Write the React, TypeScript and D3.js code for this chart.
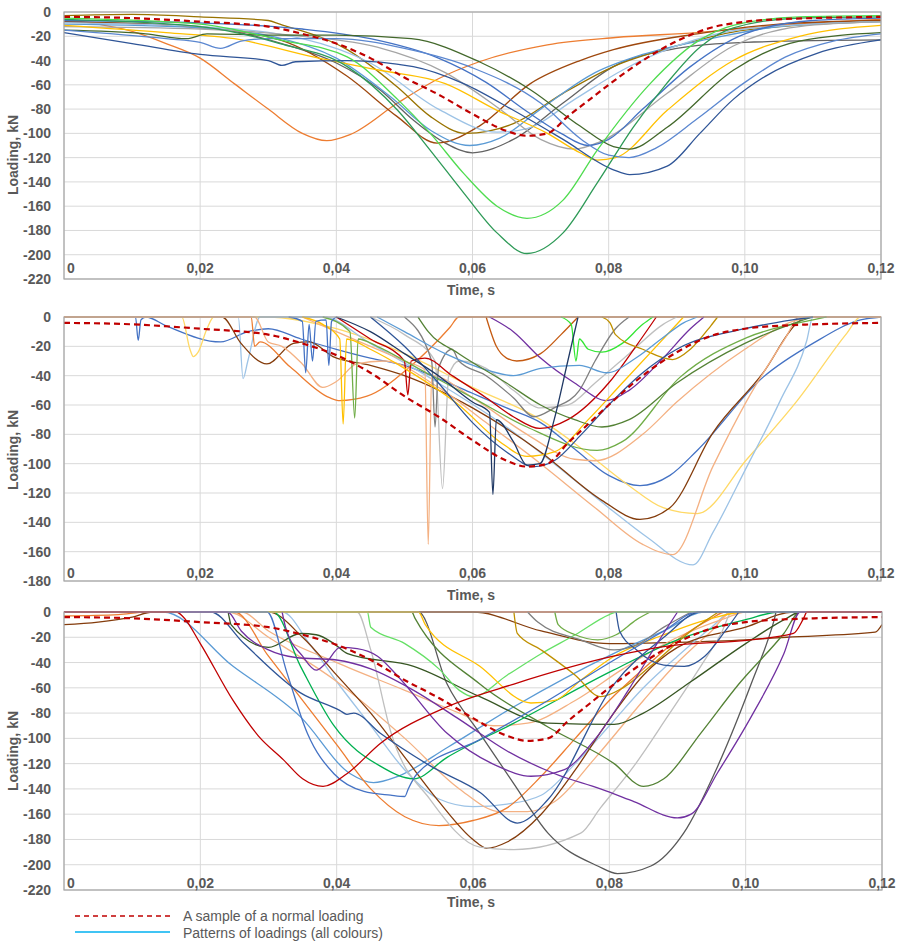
import React from "react";
import * as d3 from "d3";

type Pt = [number, number];

// shared axis stuff
const timeTicks = [0, 0.02, 0.04, 0.06, 0.08, 0.1, 0.12];
const timeLabels = ["0", "0,02", "0,04", "0,06", "0,08", "0,10", "0,12"];

// the dashed reference curve, same on all three panels
const normalLoading: Pt[] = [[0,-4],[0.01,-5],[0.02,-8],[0.03,-12],[0.035,-18],[0.04,-26],[0.045,-38],[0.05,-54],[0.055,-68],[0.06,-84],[0.065,-98],[0.068,-102],[0.071,-100],[0.074,-86],[0.077,-73],[0.08,-60],[0.085,-40],[0.09,-24],[0.095,-13],[0.1,-8],[0.105,-6],[0.11,-5],[0.12,-4]];

// ---- panel 1 ----
const p1Orange: Pt[] = [[0,-6],[0.005,-10],[0.01,-16],[0.015,-26],[0.02,-38],[0.025,-59],[0.03,-80],[0.035,-100],[0.0386,-106],[0.042,-101],[0.049,-75],[0.055,-55],[0.061,-41],[0.071,-27],[0.081,-21],[0.093,-17],[0.105,-11],[0.12,-6]];
const p1BrightGreen: Pt[] = [[0,-5],[0.02,-10],[0.0317,-23],[0.0416,-37],[0.049,-72],[0.0538,-100],[0.0587,-133],[0.0636,-160],[0.068,-170],[0.0733,-155],[0.0783,-114],[0.0861,-59],[0.0934,-23],[0.0983,-11],[0.108,-4],[0.12,-3]];
const p1DarkGreen: Pt[] = [[0,-6],[0.02,-12],[0.0317,-26],[0.0416,-45],[0.049,-81],[0.0538,-114],[0.0587,-149],[0.0636,-182],[0.068,-199],[0.0733,-182],[0.0783,-141],[0.0836,-95],[0.0885,-59],[0.0934,-29],[0.0983,-13],[0.108,-5],[0.12,-4]];
const p1DarkBlue: Pt[] = [[0,-17],[0.01,-26],[0.02,-35],[0.03,-40],[0.032,-44],[0.034,-41],[0.0416,-40],[0.0513,-45],[0.0587,-59],[0.066,-81],[0.0733,-105],[0.0807,-130],[0.0831,-134],[0.0886,-127],[0.0934,-100],[0.0983,-72],[0.103,-53],[0.1106,-34],[0.12,-23]];
const p1Blue: Pt[] = [[0,-15],[0.015,-22],[0.02,-25],[0.023,-30],[0.026,-24],[0.03,-22],[0.04,-22],[0.05,-30],[0.06,-46],[0.07,-75],[0.076,-105],[0.08,-118],[0.083,-120],[0.087,-112],[0.093,-88],[0.1,-58],[0.106,-37],[0.113,-24],[0.12,-18]];
const p1Olive: Pt[] = [[0,-15],[0.012,-18],[0.018,-22],[0.021,-18],[0.03,-19],[0.04,-19],[0.051,-22],[0.061,-41],[0.0685,-64],[0.0758,-94],[0.0807,-111],[0.083,-113],[0.0886,-95],[0.0983,-48],[0.108,-24],[0.12,-17]];
const p1Gold: Pt[] = [[0,-11],[0.015,-17],[0.025,-22],[0.0366,-37],[0.0464,-48],[0.056,-59],[0.0636,-81],[0.071,-100],[0.0758,-116],[0.0783,-122],[0.081,-120],[0.0886,-81],[0.0983,-40],[0.108,-20],[0.12,-11]];
const p1Grey: Pt[] = [[0,-12],[0.02,-14],[0.035,-20],[0.046,-29],[0.056,-50],[0.064,-80],[0.07,-105],[0.075,-113],[0.0787,-107],[0.0886,-67],[0.0983,-28],[0.108,-12],[0.12,-8]];
const p1DarkGrey: Pt[] = [[0,-8],[0.02,-12],[0.032,-26],[0.04,-42],[0.0464,-64],[0.0513,-89],[0.056,-108],[0.06,-116],[0.066,-105],[0.0733,-75],[0.0807,-45],[0.09,-30],[0.1,-25],[0.12,-23]];
const p1LightBlue: Pt[] = [[0,-10],[0.02,-13],[0.032,-22],[0.04,-38],[0.048,-70],[0.054,-98],[0.0596,-110],[0.064,-104],[0.07,-80],[0.078,-50],[0.085,-35],[0.095,-22],[0.105,-12],[0.12,-8]];
const p1Brown: Pt[] = [[0,-8],[0.02,-13],[0.0317,-23],[0.0416,-53],[0.0489,-86],[0.0548,-108],[0.061,-94],[0.0685,-59],[0.0758,-40],[0.0807,-31],[0.093,-18],[0.105,-10],[0.12,-7]];
const p1DarkGold: Pt[] = [[0,-3],[0.01,-2],[0.02,-4],[0.03,-7],[0.0317,-10],[0.0416,-31],[0.049,-62],[0.0538,-86],[0.059,-100],[0.066,-92],[0.0733,-67],[0.0807,-45],[0.09,-28],[0.1,-15],[0.12,-8]];
const p1PaleBlue: Pt[] = [[0,-9],[0.02,-12],[0.035,-22],[0.045,-42],[0.055,-80],[0.0636,-99],[0.068,-96],[0.075,-72],[0.082,-48],[0.09,-28],[0.1,-14],[0.12,-8]];
const p1MidBlue: Pt[] = [[0,-7],[0.02,-9],[0.035,-14],[0.045,-22],[0.055,-38],[0.062,-58],[0.068,-82],[0.073,-100],[0.077,-110],[0.08,-105],[0.085,-80],[0.092,-45],[0.1,-18],[0.11,-7],[0.12,-5]];

// ---- panel 2 ----
const p2BlueA: Pt[] = [[0,0],[0.0105,0],[0.0109,-16],[0.0113,-2],[0.012,0],[0.015,-6],[0.023,-17],[0.027,-10],[0.03,-8],[0.0348,-15],[0.04,-22],[0.045,-28],[0.05,-33],[0.055,-42],[0.06,-52],[0.065,-62],[0.07,-72],[0.075,-90],[0.08,-108],[0.0846,-115],[0.089,-108],[0.093,-91],[0.1027,-41],[0.11,-18],[0.117,-2],[0.12,0]];
const p2LightGold: Pt[] = [[0,0],[0.0173,0],[0.0185,-22],[0.019,-27],[0.0197,-24],[0.021,-8],[0.022,0],[0.03,0],[0.04,-8],[0.05,-25],[0.06,-48],[0.07,-70],[0.0758,-89],[0.083,-115],[0.088,-130],[0.093,-134],[0.1003,-97],[0.1077,-57],[0.115,-11],[0.117,0],[0.12,0]];
const p2PaleBlue: Pt[] = [[0,0],[0.0256,0],[0.0263,-42],[0.027,-30],[0.0288,0],[0.038,0],[0.045,-18],[0.055,-45],[0.065,-75],[0.072,-100],[0.08,-130],[0.0856,-150],[0.0924,-169],[0.0953,-147],[0.1003,-102],[0.1052,-57],[0.1091,-16],[0.11,0],[0.12,0]];
const p2Brown: Pt[] = [[0,0],[0.0232,0],[0.026,-18],[0.0298,-32],[0.0337,-18],[0.036,-17],[0.0395,-27],[0.045,-33],[0.05,-40],[0.06,-62],[0.07,-92],[0.079,-125],[0.0846,-138],[0.089,-130],[0.0953,-79],[0.1027,-38],[0.1077,-4],[0.109,0],[0.12,0]];
const p2Orange: Pt[] = [[0,0],[0.0275,0],[0.028,-20],[0.0288,-17],[0.0332,-34],[0.039,-55],[0.0405,-57],[0.0445,-54],[0.0508,-34],[0.0567,-7],[0.058,0],[0.12,0]];
const p2OrangeBump: Pt[] = [[0.062,0],[0.0635,-20],[0.065,-28],[0.0665,-30],[0.07,-25],[0.073,-12],[0.0755,0]];
const p2Peach: Pt[] = [[0,0],[0.028,0],[0.03,-17],[0.032,-20],[0.035,-32],[0.038,-48],[0.04,-44],[0.043,-32],[0.047,-30],[0.055,-48],[0.062,-72],[0.07,-100],[0.078,-130],[0.085,-155],[0.0894,-162],[0.0953,-102],[0.1003,-57],[0.106,-14],[0.108,0],[0.12,0]];
const p2PeachSpike: Pt[] = [[0.035,0],[0.04,-10],[0.045,-20],[0.05,-30],[0.053,-36],[0.0535,-155],[0.054,-40],[0.06,-55],[0.068,-80],[0.075,-97],[0.078,-98],[0.085,-80],[0.09,-58],[0.1,-22],[0.107,-3],[0.11,0]];
const p2GreySpike: Pt[] = [[0.045,0],[0.05,-12],[0.0545,-30],[0.0556,-117],[0.0565,-40],[0.058,-30],[0.062,-35],[0.066,-50],[0.07,-62],[0.074,-60],[0.078,-45],[0.083,-25],[0.088,-5],[0.09,0]];
const p2DarkGrey: Pt[] = [[0.05,0],[0.054,-30],[0.0545,-75],[0.055,-35],[0.057,-22],[0.058,-30],[0.062,-40],[0.066,-55],[0.069,-68],[0.072,-62],[0.0757,-50],[0.078,-30],[0.081,-8],[0.083,0]];
const p2DarkBlue: Pt[] = [[0.04,0],[0.045,-10],[0.05,-25],[0.055,-40],[0.06,-58],[0.0625,-65],[0.063,-121],[0.0635,-70],[0.066,-85],[0.068,-101],[0.0699,-100],[0.072,-70],[0.074,-30],[0.0755,0]];
const p2Red: Pt[] = [[0.04,0],[0.045,-15],[0.05,-30],[0.0505,-53],[0.051,-30],[0.053,-28],[0.057,-40],[0.062,-55],[0.066,-68],[0.0699,-76],[0.074,-70],[0.08,-45],[0.084,-20],[0.087,0]];
const p2Purple: Pt[] = [[0.0625,0],[0.066,-10],[0.07,-28],[0.075,-45],[0.0797,-57],[0.083,-50],[0.088,-28],[0.092,-8],[0.094,0]];
const p2LightGreen: Pt[] = [[0.073,0],[0.0745,-5],[0.0752,-30],[0.0757,-15],[0.077,-22],[0.079,-24],[0.082,-18],[0.085,-5],[0.0865,0]];
const p2DarkGold: Pt[] = [[0.079,0],[0.0802,-4],[0.081,-12],[0.085,-22],[0.0894,-29],[0.092,-22],[0.095,-6],[0.096,0]];
const p2Green: Pt[] = [[0.038,0],[0.042,-10],[0.0427,-69],[0.0432,-15],[0.046,-20],[0.052,-35],[0.06,-55],[0.068,-75],[0.0783,-91],[0.082,-85],[0.0905,-41],[0.1003,-14],[0.11,-2],[0.112,0]];
const p2GoldSpike: Pt[] = [[0.035,0],[0.038,-5],[0.0405,-15],[0.041,-73],[0.0415,-15],[0.045,-22],[0.05,-35],[0.058,-60],[0.064,-85],[0.068,-95],[0.072,-92],[0.077,-70],[0.082,-45],[0.088,-15],[0.091,0]];
const p2BlueB: Pt[] = [[0.045,0],[0.05,-20],[0.055,-45],[0.06,-72],[0.065,-92],[0.069,-102],[0.072,-98],[0.076,-80],[0.08,-60],[0.085,-38],[0.09,-22],[0.1,-8],[0.107,-2],[0.11,0]];
const p2LightBlue: Pt[] = [[0.046,0],[0.05,-10],[0.056,-25],[0.062,-36],[0.066,-40],[0.07,-35],[0.0757,-33],[0.0797,-38],[0.084,-28],[0.088,-14],[0.091,-4],[0.093,0]];
const p2Olive: Pt[] = [[0.052,0],[0.0535,-10],[0.058,-25],[0.065,-45],[0.07,-60],[0.075,-70],[0.079,-75],[0.083,-70],[0.09,-45],[0.1,-18],[0.108,-3],[0.11,0]];
const p2BlueSpikes: Pt[] = [[0.033,0],[0.035,-3],[0.0355,-38],[0.036,-5],[0.0365,-30],[0.037,-3],[0.0385,-2],[0.0389,-33],[0.0393,-3],[0.04,0]];

// ---- panel 3 ----
const p3Red: Pt[] = [[0,0],[0.0165,0],[0.0175,-4],[0.02,-25],[0.0248,-70],[0.0285,-98],[0.0322,-117],[0.035,-132],[0.038,-138],[0.0415,-128],[0.0464,-104],[0.0562,-75],[0.066,-57],[0.0806,-35],[0.0885,-27],[0.1008,-22],[0.107,-17],[0.1085,-5],[0.109,0],[0.12,0]];
const p3LightBlue: Pt[] = [[0,0],[0.0145,0],[0.0248,-43],[0.0347,-83],[0.042,-128],[0.0454,-135],[0.049,-130],[0.0563,-107],[0.066,-75],[0.0806,-33],[0.088,-15],[0.094,0],[0.12,0]];
const p3DarkBlue: Pt[] = [[0,0],[0.0215,0],[0.0264,-25],[0.0347,-64],[0.0405,-78],[0.0415,-81],[0.0425,-80],[0.0464,-96],[0.0538,-122],[0.0611,-143],[0.0665,-167],[0.0709,-149],[0.0807,-57],[0.088,-20],[0.0934,0],[0.12,0]];
const p3Blue: Pt[] = [[0,0],[0.0298,0],[0.0327,-48],[0.0357,-96],[0.0396,-128],[0.044,-142],[0.0479,-145],[0.05,-146],[0.0505,-140],[0.0518,-128],[0.061,-101],[0.071,-70],[0.0807,-38],[0.088,-15],[0.093,0],[0.12,0]];
const p3Green: Pt[] = [[0,0],[0.0307,0],[0.0347,-43],[0.0396,-90],[0.0464,-122],[0.0513,-132],[0.0562,-115],[0.066,-88],[0.0806,-46],[0.09,-22],[0.1,-6],[0.105,0],[0.12,0]];
const p3Orange: Pt[] = [[0,0],[0.025,0],[0.03,-35],[0.035,-70],[0.04,-105],[0.045,-140],[0.05,-162],[0.055,-169],[0.06,-165],[0.065,-155],[0.07,-130],[0.075,-100],[0.08,-70],[0.085,-45],[0.09,-22],[0.095,-5],[0.097,0],[0.12,0]];
const p3Peach: Pt[] = [[0,0],[0.024,0],[0.03,-20],[0.04,-55],[0.05,-100],[0.058,-140],[0.064,-158],[0.068,-158],[0.072,-150],[0.078,-115],[0.085,-70],[0.09,-40],[0.095,-15],[0.098,0],[0.12,0]];
const p3PeachUpper: Pt[] = [[0,0],[0.026,0],[0.03,-15],[0.04,-40],[0.05,-62],[0.058,-80],[0.063,-90],[0.068,-88],[0.075,-70],[0.082,-45],[0.09,-20],[0.097,-5],[0.1,0],[0.12,0]];
const p3Brown: Pt[] = [[0,0],[0.03,0],[0.035,-20],[0.04,-50],[0.045,-80],[0.05,-115],[0.055,-150],[0.06,-180],[0.062,-187],[0.065,-182],[0.07,-160],[0.075,-125],[0.08,-85],[0.085,-50],[0.09,-28],[0.1,-12],[0.107,0],[0.12,0]];
const p3LightGrey: Pt[] = [[0,0],[0.043,0],[0.045,-30],[0.048,-96],[0.0538,-149],[0.061,-186],[0.066,-188],[0.0758,-175],[0.0787,-155],[0.0836,-122],[0.0885,-83],[0.0934,-43],[0.0964,-17],[0.098,0],[0.12,0]];
const p3DarkGrey: Pt[] = [[0,0],[0.052,0],[0.0562,-57],[0.061,-96],[0.066,-136],[0.071,-175],[0.0783,-201],[0.0812,-207],[0.0861,-201],[0.0909,-175],[0.0959,-122],[0.1008,-57],[0.1042,-6],[0.1045,0],[0.12,0]];
const p3PurpleDeep: Pt[] = [[0,0],[0.024,0],[0.026,-15],[0.03,-30],[0.034,-36],[0.04,-38],[0.045,-45],[0.0513,-62],[0.058,-85],[0.065,-110],[0.072,-128],[0.0787,-140],[0.0836,-150],[0.09,-163],[0.092,-160],[0.0959,-127],[0.1008,-83],[0.1056,-33],[0.108,0],[0.12,0]];
const p3PurpleBumpy: Pt[] = [[0.032,0],[0.0325,-12],[0.035,-35],[0.037,-46],[0.0385,-40],[0.0405,-28],[0.043,-29],[0.046,-35],[0.049,-51],[0.0562,-96],[0.0636,-122],[0.0685,-130],[0.0733,-125],[0.078,-100],[0.083,-60],[0.087,-25],[0.09,0]];
const p3OliveDeep: Pt[] = [[0,0],[0.051,0],[0.0515,-5],[0.061,-57],[0.071,-91],[0.0807,-120],[0.085,-138],[0.088,-132],[0.0934,-96],[0.099,-57],[0.1056,-17],[0.108,0],[0.12,0]];
const p3OliveBumpy: Pt[] = [[0,0],[0.024,0],[0.0245,-10],[0.03,-28],[0.0347,-17],[0.037,-18],[0.0396,-25],[0.0416,-33],[0.0513,-43],[0.061,-67],[0.071,-88],[0.0807,-89],[0.085,-80],[0.092,-55],[0.1,-25],[0.106,-5],[0.108,0],[0.12,0]];
const p3BrightGreen: Pt[] = [[0,0],[0.0445,0],[0.045,-12],[0.05,-25],[0.055,-45],[0.058,-62],[0.06,-67],[0.065,-50],[0.07,-33],[0.075,-18],[0.08,-2],[0.081,0],[0.12,0]];
const p3Gold: Pt[] = [[0,0],[0.052,0],[0.053,-10],[0.061,-43],[0.0685,-72],[0.072,-70],[0.0758,-54],[0.0807,-35],[0.088,-18],[0.095,-5],[0.1,0],[0.12,0]];
const p3DarkGold: Pt[] = [[0.066,0],[0.0665,-17],[0.07,-30],[0.075,-50],[0.0787,-67],[0.082,-60],[0.086,-43],[0.092,-15],[0.096,0]];
const p3NavyDip: Pt[] = [[0.081,0],[0.0815,-15],[0.084,-30],[0.088,-42],[0.091,-43],[0.094,-35],[0.097,-15],[0.099,0]];
const p3GreenDip: Pt[] = [[0.072,0],[0.0725,-10],[0.075,-18],[0.0783,-22],[0.081,-18],[0.084,-6],[0.086,0]];
const p3Grey: Pt[] = [[0.068,0],[0.0695,-8],[0.0758,-22],[0.0807,-30],[0.084,-26],[0.088,-12],[0.092,0]];
const p3BrownEdge: Pt[] = [[0,-10],[0.005,-8],[0.01,-4],[0.013,0],[0.06,0],[0.07,-15],[0.08,-25],[0.09,-24],[0.1,-22],[0.106,-20],[0.119,-16],[0.12,-10]];
const p3OrangeEdge: Pt[] = [[0,-3],[0.008,-2],[0.012,0],[0.12,0]];
const p3PaleBlue: Pt[] = [[0,0],[0.032,0],[0.036,-25],[0.04,-55],[0.045,-90],[0.05,-125],[0.055,-148],[0.06,-154],[0.065,-152],[0.07,-145],[0.075,-120],[0.08,-90],[0.085,-60],[0.09,-35],[0.095,-12],[0.098,0],[0.12,0]];
const p3Magenta: Pt[] = [[0,0],[0.12,0]];

const panels = [
  {
    top: 12, bottom: 279, left: 64, right: 881, yMin: -220, titleY: 155, tickOff: 11, timeOff: 11,
    series: [
      { d: p1Orange, c: "#ed7d31" }, { d: p1DarkGrey, c: "#636363" }, { d: p1Brown, c: "#9e480e" },
      { d: p1DarkGold, c: "#997300" }, { d: p1LightBlue, c: "#5b9bd5" }, { d: p1PaleBlue, c: "#9dc3e6" },
      { d: p1Grey, c: "#a5a5a5" }, { d: p1Gold, c: "#ffc000" }, { d: p1MidBlue, c: "#4472c4" },
      { d: p1Olive, c: "#43682b" }, { d: p1Blue, c: "#5b87d0" }, { d: p1DarkBlue, c: "#2f5597" },
      { d: p1DarkGreen, c: "#2e9a57" }, { d: p1BrightGreen, c: "#4fdc4f" },
    ],
  },
  {
    top: 317, bottom: 581, left: 64, right: 881, yMin: -180, titleY: 450, tickOff: 8, timeOff: 14,
    series: [
      { d: p2BlueA, c: "#4472c4" }, { d: p2LightGold, c: "#ffd966" }, { d: p2PaleBlue, c: "#9dc3e6" },
      { d: p2Brown, c: "#843c0c" }, { d: p2Orange, c: "#ed7d31" }, { d: p2OrangeBump, c: "#c55a11" },
      { d: p2Peach, c: "#f4b183" }, { d: p2PeachSpike, c: "#f4b183" }, { d: p2GreySpike, c: "#bfbfbf" },
      { d: p2DarkGrey, c: "#7f7f7f" }, { d: p2Red, c: "#c00000" }, { d: p2Purple, c: "#7030a0" },
      { d: p2LightGreen, c: "#33e633" }, { d: p2DarkGold, c: "#bf9000" }, { d: p2Green, c: "#70ad47" },
      { d: p2GoldSpike, c: "#ffc000" }, { d: p2LightBlue, c: "#5b9bd5" }, { d: p2Olive, c: "#548235" },
      { d: p2BlueSpikes, c: "#4472c4" }, { d: p2BlueB, c: "#2f5597" }, { d: p2DarkBlue, c: "#1f3864" },
    ],
  },
  {
    top: 612, bottom: 890, left: 64, right: 882, yMin: -220, titleY: 751, tickOff: 7, timeOff: 12,
    series: [
      { d: p3Magenta, c: "#cc66cc" }, { d: p3OrangeEdge, c: "#ed7d31" }, { d: p3BrownEdge, c: "#843c0c" },
      { d: p3LightBlue, c: "#5b9bd5" }, { d: p3PaleBlue, c: "#9dc3e6" }, { d: p3Peach, c: "#f4b183" },
      { d: p3PeachUpper, c: "#f4b183" }, { d: p3Orange, c: "#ed7d31" }, { d: p3Brown, c: "#843c0c" },
      { d: p3LightGrey, c: "#bfbfbf" }, { d: p3DarkGrey, c: "#595959" }, { d: p3OliveDeep, c: "#548235" },
      { d: p3OliveBumpy, c: "#375623" }, { d: p3Green, c: "#00b050" }, { d: p3BrightGreen, c: "#66e066" },
      { d: p3Gold, c: "#ffc000" }, { d: p3DarkGold, c: "#bf9000" }, { d: p3Grey, c: "#7f7f7f" },
      { d: p3GreenDip, c: "#70ad47" }, { d: p3NavyDip, c: "#2f5597" }, { d: p3Blue, c: "#4472c4" },
      { d: p3DarkBlue, c: "#2f5597" }, { d: p3PurpleBumpy, c: "#7030a0" }, { d: p3PurpleDeep, c: "#7030a0" },
      { d: p3Red, c: "#c00000" },
    ],
  },
];

const FONT = "'Liberation Sans', Arial, sans-serif";
const TXT = "#595959";

const Panel = ({ p, idx }: { p: any; idx: number }) => {
  const x = d3.scaleLinear().domain([0, 0.12]).range([p.left, p.right]);
  const y = d3.scaleLinear().domain([p.yMin, 0]).range([p.bottom, p.top]);
  const line = d3.line<Pt>().x((d) => x(d[0])).y((d) => y(d[1])).curve(d3.curveMonotoneX);
  const yTicks = d3.range(0, p.yMin - 1, -20);
  const clipId = `clip${idx}`;

  return (
    <g>
      <clipPath id={clipId}>
        <rect x={p.left} y={p.top - 1} width={p.right - p.left} height={p.bottom - p.top + 1} />
      </clipPath>
      {/* grid */}
      {yTicks.map((t) => (
        <line key={"h" + t} x1={p.left} x2={p.right} y1={y(t)} y2={y(t)} stroke="#d9d9d9" strokeWidth={1} />
      ))}
      {timeTicks.map((t) => (
        <line key={"v" + t} x1={x(t)} x2={x(t)} y1={p.top} y2={p.bottom} stroke="#d9d9d9" strokeWidth={1} />
      ))}
      {/* curves */}
      <g clipPath={`url(#${clipId})`}>
        {p.series.map((s: any, i: number) => (
          <path key={i} d={line(s.d) || ""} fill="none" stroke={s.c} strokeWidth={1.3} />
        ))}
        <path d={line(normalLoading) || ""} fill="none" stroke="#c00000" strokeWidth={2.2} strokeDasharray="6,4" />
      </g>
      <rect x={p.left} y={p.top} width={p.right - p.left} height={p.bottom - p.top} fill="none" stroke="#a6a6a6" strokeWidth={1.2} />
      {/* y ticks */}
      {yTicks.map((t) => (
        <text key={"yl" + t} x={51} y={y(t)} textAnchor="end" dominantBaseline="central"
          fontFamily={FONT} fontWeight="bold" fontSize={14} fill={TXT}>{t}</text>
      ))}
      {/* x ticks sit inside the plot */}
      {timeTicks.map((t, i) => (
        <text key={"xl" + t} x={i === 0 ? x(t) + 3 : x(t)} y={p.bottom - p.tickOff}
          textAnchor={i === 0 ? "start" : "middle"} dominantBaseline="central"
          fontFamily={FONT} fontWeight="bold" fontSize={14} fill={TXT}>{timeLabels[i]}</text>
      ))}
      <text x={471} y={p.bottom + p.timeOff} textAnchor="middle" dominantBaseline="central"
        fontFamily={FONT} fontWeight="bold" fontSize={14} fill={TXT}>Time, s</text>
      <text transform={`translate(13,${p.titleY}) rotate(-90)`} textAnchor="middle" dominantBaseline="central"
        fontFamily={FONT} fontWeight="bold" fontSize={14} fill={TXT}>Loading, kN</text>
    </g>
  );
};

export default function App() {
  return (
    <svg width={899} height={942} style={{ position: "absolute", left: 0, top: 0, background: "#fff" }}>
      {panels.map((p, i) => (
        <Panel key={i} p={p} idx={i} />
      ))}
      {/* legend */}
      <line x1={75} x2={172} y1={916} y2={916} stroke="#c00000" strokeWidth={1.3} strokeDasharray="5,4" />
      <text x={183} y={916} dominantBaseline="central" fontFamily={FONT} fontSize={14} fill={TXT}>
        A sample of a normal loading
      </text>
      <line x1={75} x2={170} y1={932} y2={932} stroke="#00b0f0" strokeWidth={1.3} />
      <text x={183} y={933} dominantBaseline="central" fontFamily={FONT} fontSize={14} fill={TXT}>
        Patterns of loadings (all colours)
      </text>
    </svg>
  );
}
